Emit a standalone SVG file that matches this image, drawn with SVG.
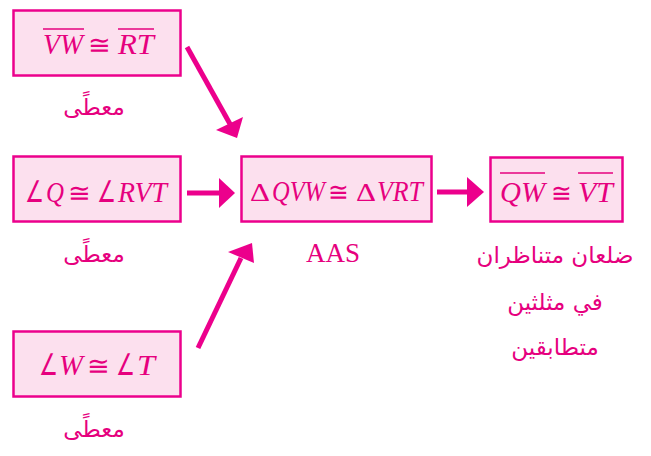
<svg xmlns="http://www.w3.org/2000/svg" width="651" height="456" viewBox="0 0 651 456">
<style>
.box{fill:#FCE0EE;stroke:#EC008C;stroke-width:2.5}
.m{font-family:"Liberation Serif","Times New Roman",serif;font-style:italic;font-size:29px;fill:#E6007E}
.s{font-family:"Liberation Serif","DejaVu Serif",serif;font-size:26px;fill:#E6007E}
.g{font-family:"Liberation Serif","DejaVu Serif",serif;font-size:26px;fill:#E6007E}
.a{font-family:"DejaVu Sans",sans-serif;font-size:30px;fill:#E6007E}
.u{font-family:"Liberation Serif",serif;font-size:27px;fill:#E6007E}
.ar{font-family:"DejaVu Sans","Noto Sans",sans-serif;font-size:23px;fill:#E6007E}
.ov{stroke:#E6007E;stroke-width:1.5}
.ln{stroke:#EC008C;stroke-width:5;fill:none}
.hd{fill:#EC008C}
</style>
<rect width="651" height="456" fill="#fff"/>
<g id="n1">
<rect class="box" x="13.5" y="10.5" width="167" height="65"/>
<text class="m" x="43" y="54" textLength="40" lengthAdjust="spacingAndGlyphs">VW</text>
<text class="s" x="88" y="54" textLength="23" lengthAdjust="spacingAndGlyphs">≅</text>
<text class="m" x="118" y="54" textLength="36" lengthAdjust="spacingAndGlyphs">RT</text>
<line class="ov" x1="43" y1="29" x2="84" y2="29"/>
<line class="ov" x1="118" y1="29" x2="154" y2="29"/>
<text class="ar" x="94" y="115" text-anchor="middle">معطًى</text>
</g>
<g id="n2">
<rect class="box" x="13.5" y="156.5" width="167" height="65"/>
<text class="a" x="25" y="202" textLength="19" lengthAdjust="spacingAndGlyphs">∠</text>
<text class="m" x="46" y="202" textLength="18" lengthAdjust="spacingAndGlyphs">Q</text>
<text class="s" x="68" y="202" textLength="23" lengthAdjust="spacingAndGlyphs">≅</text>
<text class="a" x="97" y="202" textLength="19" lengthAdjust="spacingAndGlyphs">∠</text>
<text class="m" x="118" y="202" textLength="49" lengthAdjust="spacingAndGlyphs">RVT</text>
<text class="ar" x="94" y="262" text-anchor="middle">معطًى</text>
</g>
<g id="n3">
<rect class="box" x="13.5" y="331.5" width="167" height="65"/>
<text class="a" x="39" y="375" textLength="19" lengthAdjust="spacingAndGlyphs">∠</text>
<text class="m" x="59" y="375" textLength="24" lengthAdjust="spacingAndGlyphs">W</text>
<text class="s" x="87" y="375" textLength="23" lengthAdjust="spacingAndGlyphs">≅</text>
<text class="a" x="116" y="375" textLength="19" lengthAdjust="spacingAndGlyphs">∠</text>
<text class="m" x="137" y="375" textLength="18" lengthAdjust="spacingAndGlyphs">T</text>
<text class="ar" x="94" y="437" text-anchor="middle">معطًى</text>
</g>
<g id="n4">
<rect class="box" x="241.5" y="156.5" width="190" height="65"/>
<text class="g" x="250" y="201" textLength="20" lengthAdjust="spacingAndGlyphs">Δ</text>
<text class="m" x="272" y="201" textLength="53" lengthAdjust="spacingAndGlyphs">QVW</text>
<text class="s" x="328" y="201" textLength="21" lengthAdjust="spacingAndGlyphs">≅</text>
<text class="g" x="356" y="201" textLength="20" lengthAdjust="spacingAndGlyphs">Δ</text>
<text class="m" x="377" y="201" textLength="46" lengthAdjust="spacingAndGlyphs">VRT</text>
<text class="u" x="333" y="262" text-anchor="middle">AAS</text>
</g>
<g id="n5">
<rect class="box" x="490.5" y="157.5" width="132" height="64"/>
<text class="m" x="500" y="202" textLength="45" lengthAdjust="spacingAndGlyphs">QW</text>
<text class="s" x="551" y="202" textLength="21" lengthAdjust="spacingAndGlyphs">≅</text>
<text class="m" x="578" y="202" textLength="35" lengthAdjust="spacingAndGlyphs">VT</text>
<line class="ov" x1="500" y1="173" x2="545" y2="173"/>
<line class="ov" x1="578" y1="173" x2="613" y2="173"/>
<text class="ar" x="555" y="263" text-anchor="middle">ضلعان متناظران</text>
<text class="ar" x="555" y="310" text-anchor="middle">في مثلثين</text>
<text class="ar" x="555" y="355" text-anchor="middle">متطابقين</text>
</g>
<g id="connectors">
<line class="ln" x1="187" y1="47" x2="230" y2="124"/>
<polygon class="hd" points="237,138 216,130 243,117"/>
<line class="ln" x1="187" y1="193" x2="221" y2="193"/>
<polygon class="hd" points="235,193 219,178 219,208"/>
<line class="ln" x1="198" y1="348" x2="241" y2="258"/>
<polygon class="hd" points="252,243 228,252 254,263"/>
<line class="ln" x1="437" y1="192" x2="470" y2="192"/>
<polygon class="hd" points="484,192 467,177 467,207"/>
</g>
</svg>
